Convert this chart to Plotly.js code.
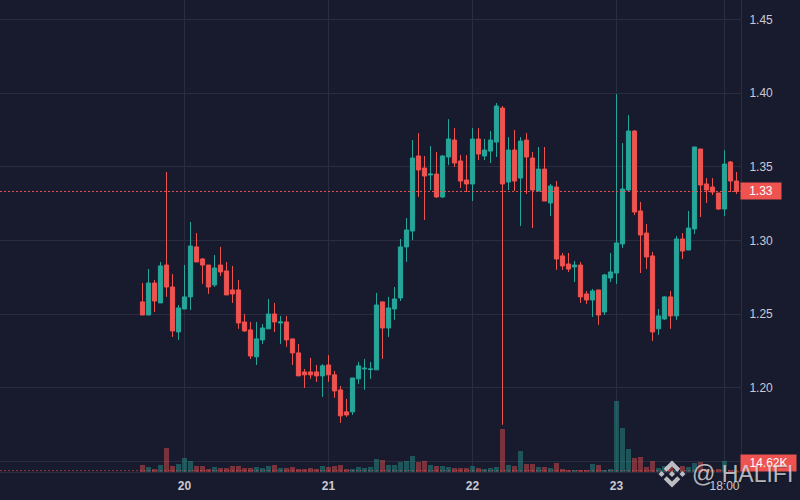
<!DOCTYPE html>
<html>
<head>
<meta charset="utf-8">
<script src="https://cdn.plot.ly/plotly-3.0.1.min.js"></script>
<style>html,body{margin:0;padding:0;background:#181a2d}#chart{width:800px;height:500px}</style>
</head>
<body>
<div id="chart"></div>
<script>
var open = [1.2584,1.2495,1.2712,1.2577,1.2834,1.2685,1.2380,1.2536,1.2618,1.2957,
1.2875,1.2834,1.2699,1.2834,1.2794,1.2665,1.2665,1.2448,1.2394,1.2211,
1.2326,1.2401,1.2502,1.2441,1.2448,1.2333,1.2238,1.2109,1.2109,1.2109,
1.2082,1.2156,1.2089,1.1987,1.1838,1.1838,1.2062,1.2129,1.2125,1.2123,
1.2584,1.2407,1.2536,1.2611,1.2957,1.3065,1.3574,1.3492,1.3445,1.3451,
1.3296,1.3567,1.3682,1.3540,1.3411,1.3384,1.3689,1.3574,1.3607,1.3668,
1.3899,1.3397,1.3614,1.3424,1.3682,1.3560,1.3336,1.3485,1.3255,1.3363,
1.2896,1.2841,1.2821,1.2834,1.2638,1.2597,1.2665,1.2516,1.2746,1.2780,
1.2977,1.3343,1.3743,1.3201,1.3051,1.2896,1.2401,1.2468,1.2618,1.2489,
1.3011,1.2936,1.3079,1.3621,1.3384,1.3363,1.3323,1.3214,1.3533,1.3404];
var high = [1.2712,1.2807,1.2733,1.2855,1.3465,1.2773,1.2563,1.2834,1.3126,1.3051,
1.2882,1.2834,1.2902,1.2957,1.2855,1.2828,1.2733,1.2502,1.2448,1.2448,
1.2434,1.2604,1.2577,1.2489,1.2489,1.2333,1.2299,1.2129,1.2204,1.2156,
1.2163,1.2224,1.2116,1.2014,1.1926,1.2068,1.2177,1.2197,1.2177,1.2645,
1.2584,1.2618,1.2685,1.3011,1.3153,1.3682,1.3729,1.3574,1.3641,1.3601,
1.3580,1.3824,1.3763,1.3580,1.3580,1.3763,1.3763,1.3689,1.3743,1.3933,
1.3913,1.3702,1.3750,1.3702,1.3729,1.3601,1.3635,1.3635,1.3384,1.3404,
1.2916,1.2916,1.2862,1.2855,1.2658,1.2672,1.2665,1.2774,1.2916,1.3994,
1.3662,1.3851,1.3750,1.3262,1.3112,1.2923,1.2536,1.2624,1.2658,1.3031,
1.3051,1.3201,1.3635,1.3621,1.3424,1.3424,1.3323,1.3614,1.3540,1.3465];
var low = [1.2495,1.2495,1.2516,1.2577,1.2618,1.2346,1.2326,1.2536,1.2529,1.2855,
1.2706,1.2638,1.2685,1.2760,1.2631,1.2577,1.2401,1.2380,1.2197,1.2156,
1.2299,1.2401,1.2380,1.2299,1.2279,1.2156,1.2082,1.2000,1.2062,1.2041,
1.1940,1.2041,1.1933,1.1763,1.1804,1.1817,1.2028,1.1987,1.2062,1.2123,
1.2197,1.2346,1.2462,1.2590,1.2855,1.3004,1.3296,1.3140,1.3343,1.3289,
1.3289,1.3512,1.3499,1.3357,1.3329,1.3268,1.3546,1.3546,1.3526,1.3567,
1.1750,1.3343,1.3336,1.3099,1.3316,1.3085,1.3336,1.3268,1.3167,1.2801,
1.2801,1.2787,1.2719,1.2577,1.2570,1.2482,1.2428,1.2495,1.2719,1.2706,
1.2950,1.3329,1.3173,1.2780,1.2807,1.2319,1.2360,1.2462,1.2401,1.2462,
1.2875,1.2936,1.3045,1.3160,1.3255,1.3309,1.3207,1.3167,1.3329,1.3316];
var close = [1.2495,1.2712,1.2590,1.2828,1.2685,1.2387,1.2543,1.2618,1.2963,1.2855,
1.2834,1.2685,1.2814,1.2787,1.2631,1.2638,1.2441,1.2387,1.2217,1.2333,
1.2407,1.2502,1.2448,1.2448,1.2326,1.2238,1.2082,1.2089,1.2089,1.2082,
1.2150,1.2089,1.1980,1.1811,1.1817,1.2068,1.2150,1.2134,1.2129,1.2563,
1.2407,1.2543,1.2604,1.2957,1.3072,1.3560,1.3479,1.3438,1.3451,1.3296,
1.3574,1.3689,1.3526,1.3404,1.3384,1.3689,1.3587,1.3614,1.3682,1.3913,
1.3384,1.3614,1.3404,1.3675,1.3567,1.3343,1.3485,1.3268,1.3370,1.2875,
1.2828,1.2807,1.2834,1.2618,1.2597,1.2658,1.2495,1.2767,1.2787,1.2984,
1.3350,1.3743,1.3194,1.3038,1.2889,1.2380,1.2489,1.2618,1.2489,1.3011,
1.2929,1.3085,1.3635,1.3377,1.3343,1.3329,1.3214,1.3519,1.3404,1.3333];
var volumeK = [79,56,34,79,270,68,90,158,124,68,
68,34,56,45,45,68,68,45,45,56,
45,68,79,45,45,56,34,34,45,34,
68,56,68,79,34,34,56,45,56,146,
135,79,79,113,124,180,113,124,79,68,
68,56,45,45,45,68,45,34,45,56,
484,79,68,236,90,90,56,56,45,101,
34,23,23,23,23,90,79,23,34,799,
495,259,158,169,56,124,45,68,56,23,
68,56,101,113,34,23,34,124,23,14.62];

var priceTicks = [1.20,1.25,1.30,1.35,1.40,1.45];
var timeTicks = [7,31,55,79,97];
var timeLabels = ["<b>20</b>","<b>21</b>","<b>22</b>","<b>23</b>","18:00"];
var lastPrice = 1.3333, lastPriceLabel = "1.33";
var lastVolume = 14.62, lastVolumeLabel = "14.62K";
var volumeGrid = [120];
var watermark = "@ HALIFI";

var UP = "#26a69a", DOWN = "#ef5350", BG = "#181a2d", GRID = "#2a2c3f", TXT = "#c9cad2";
var hours = open.map(function(_, i){ return i; });
var volColors = open.map(function(o, i){
  return close[i] >= o ? "rgba(38,166,154,0.42)" : "rgba(239,83,80,0.45)";
});

var traces = [
  {type:"candlestick", x:hours, open:open, high:high, low:low, close:close, whiskerwidth:0,
   increasing:{line:{color:UP,width:1}, fillcolor:UP},
   decreasing:{line:{color:DOWN,width:1}, fillcolor:DOWN}, hoverinfo:"skip"},
  {type:"bar", x:hours, y:volumeK, yaxis:"y2", width:0.83, marker:{color:volColors, line:{width:0}}, hoverinfo:"skip"}
];

function poly(p){ return "M"+p.map(function(q){return q[0]+","+q[1];}).join(" L")+" Z"; }
var logo = [
  poly([[-5.24,-2.15],[0,-7.4],[5.25,-2.15],[8.3,-5.2],[0,-13.5],[-8.3,-5.2]]),
  poly([[-5.24,2.15],[0,7.4],[5.25,2.15],[8.3,5.2],[0,13.5],[-8.3,5.2]]),
  poly([[-13.5,0],[-10.45,-3.05],[-7.4,0],[-10.45,3.05]]),
  poly([[13.5,0],[10.45,-3.05],[7.4,0],[10.45,3.05]]),
  poly([[0,-3.1],[3.1,0],[0,3.1],[-3.1,0]])
].join(" ");

var layout = {
  width:800, height:500, paper_bgcolor:BG, plot_bgcolor:BG, showlegend:false, hovermode:false,
  dragmode:false, bargap:0, boxgap:0.3, boxgroupgap:0, boxmode:"overlay",
  margin:{l:0,r:59,t:0,b:28,pad:0},
  font:{family:"Liberation Sans, Arial, sans-serif", size:12, color:TXT},
  xaxis:{type:"linear", range:[-23.75,99.75], tickmode:"array", tickvals:timeTicks, ticktext:timeLabels,
    showgrid:true, gridcolor:GRID, gridwidth:1, zeroline:false, showline:true, linecolor:GRID, linewidth:1,
    ticks:"outside", ticklen:3, tickcolor:"rgba(0,0,0,0)", tickfont:{size:12,color:TXT},
    rangeslider:{visible:false}, fixedrange:true},
  yaxis:{range:[1.1430,1.4632], side:"right", tickmode:"array", tickvals:priceTicks,
    ticktext:priceTicks.map(function(v){return v.toFixed(2);}),
    showgrid:true, gridcolor:GRID, gridwidth:1, zeroline:false, showline:true, linecolor:GRID, linewidth:1,
    ticks:"outside", ticklen:5, tickcolor:"rgba(0,0,0,0)", tickfont:{size:12,color:TXT}, fixedrange:true},
  yaxis2:{overlaying:"y", range:[0,5310], side:"right", tickmode:"array", tickvals:volumeGrid,
    showticklabels:false, showgrid:true, gridcolor:GRID, gridwidth:1, zeroline:false, showline:false, ticks:"", fixedrange:true},
  shapes:[
    {type:"line", xref:"paper", x0:0, x1:1, yref:"y", y0:lastPrice, y1:lastPrice, layer:"above",
     line:{color:DOWN,width:1,dash:"2px,2px"}},
    {type:"line", xref:"paper", x0:0, x1:1, yref:"y2", y0:lastVolume, y1:lastVolume, layer:"above", opacity:0.6,
     line:{color:DOWN,width:1,dash:"2px,2px"}},
    {type:"path", xref:"paper", yref:"paper", xsizemode:"pixel", ysizemode:"pixel",
     xanchor:672/741, yanchor:(472-474)/472, path:logo, layer:"above",
     fillcolor:"rgba(225,225,228,0.82)", line:{width:0}}
  ],
  annotations:[
    {xref:"paper", yref:"y", x:1, y:lastPrice, xanchor:"left", yanchor:"middle", xshift:-1, text:lastPriceLabel,
     showarrow:false, bgcolor:DOWN, width:40, height:16, borderpad:0, align:"center", font:{size:12,color:"#ffffff"}},
    {xref:"paper", yref:"paper", x:1, y:0, xanchor:"left", yanchor:"bottom", xshift:-1, text:lastVolumeLabel,
     showarrow:false, bgcolor:DOWN, width:55, height:16, borderpad:0, align:"center", font:{size:12,color:"#ffffff"}},
    {xref:"paper", yref:"paper", x:690/741, y:(472-474)/472, xanchor:"left", yanchor:"middle", text:watermark,
     showarrow:false, font:{size:23,color:"rgba(225,225,228,0.8)", shadow:"1px 1px 1px rgba(0,0,0,0.35)"}}
  ]
};
Plotly.newPlot("chart", traces, layout, {staticPlot:true, displayModeBar:false});
</script>
</body>
</html>
